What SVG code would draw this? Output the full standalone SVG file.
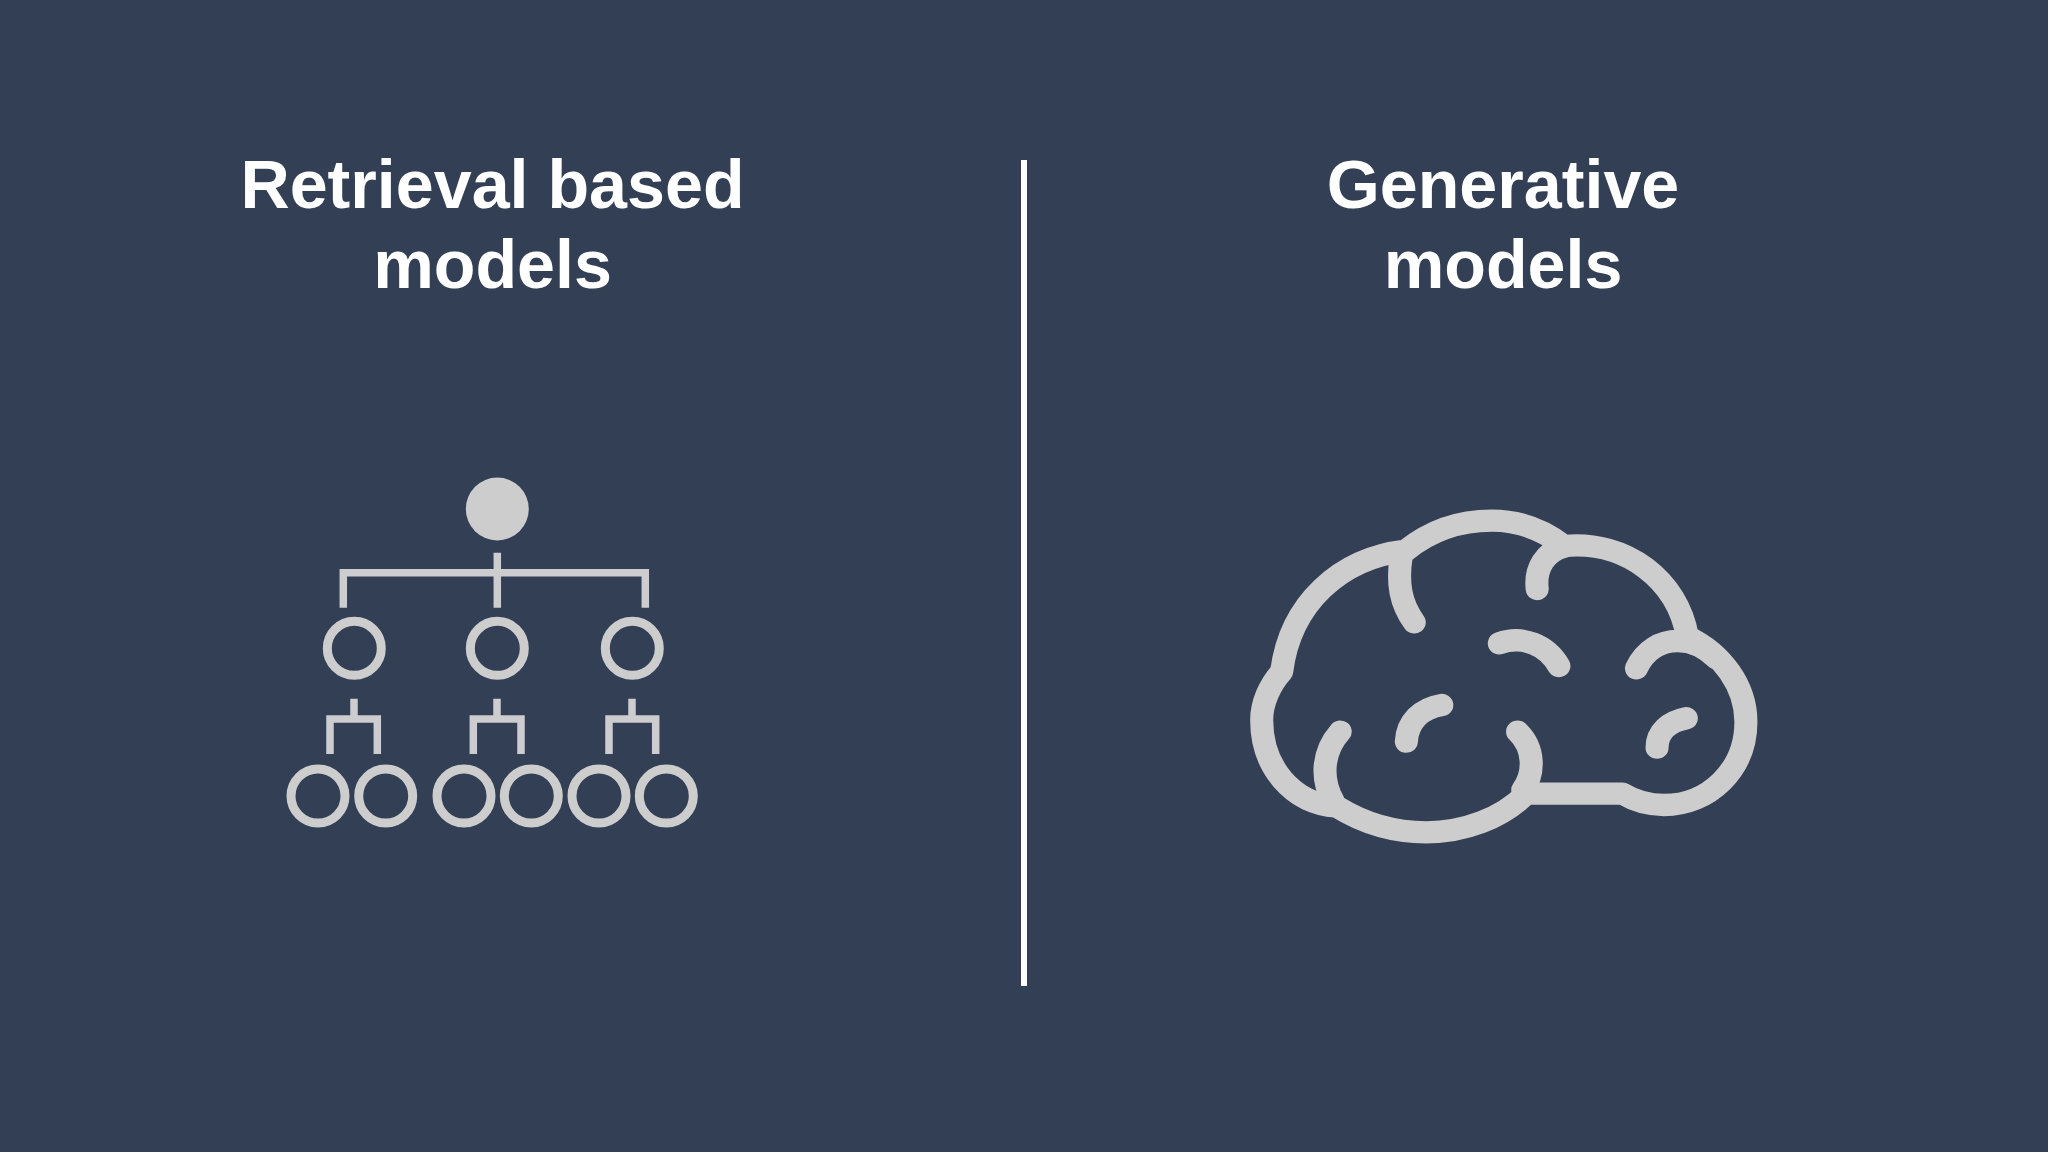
<svg xmlns="http://www.w3.org/2000/svg" width="2048" height="1152" viewBox="0 0 2048 1152">
<style>
.t{font-family:"Liberation Sans",Arial,sans-serif;font-weight:700;font-size:68.2px;fill:#fff;text-anchor:middle}
.r{fill:none;stroke:#cdcdcd;stroke-width:9}
.l{fill:none;stroke:#cdcdd0;stroke-width:7.5}
.b{fill:none;stroke:#cdcdcd;stroke-width:67;stroke-linecap:round;stroke-linejoin:round}
</style>
<rect width="2048" height="1152" fill="#323f54"/>
<g id="title-left"><text class="t" x="492.5" y="208">Retrieval based</text><text class="t" x="492.5" y="288">models</text></g>
<g id="title-right"><text class="t" x="1503" y="208">Generative</text><text class="t" x="1503" y="288">models</text></g>
<rect id="divider" x="1021" y="160" width="6" height="826" fill="#fff"/>
<g id="tree">
<circle cx="497.3" cy="509" r="31.5" fill="#cdcdcd"/>
<path class="l" d="M497.3 552.7V607.7M343.3 607.7V572.8H645.3V607.7"/>
<path class="l" d="M354 698.7V719M330 754V719H377.3V754M497 698.7V719M473.3 754V719H521V754M632 698.7V719M609 754V719H655.7V754"/>
<circle class="r" cx="354.3" cy="648.3" r="27"/><circle class="r" cx="497.3" cy="648.3" r="27"/><circle class="r" cx="632.3" cy="648.3" r="27"/>
<circle class="r" cx="318" cy="796" r="27"/><circle class="r" cx="385.7" cy="796" r="27"/><circle class="r" cx="464" cy="796" r="27"/><circle class="r" cx="531.3" cy="796" r="27"/><circle class="r" cx="599" cy="796" r="27"/><circle class="r" cx="666.3" cy="796" r="27"/>
</g>
<g id="brain" transform="translate(1230 490) scale(.3444 .3333)">
<path class="b" d="M150 545C175 340 320 205 510 182C590 115 680 92 760 92C840 92 910 120 970 168C1150 150 1300 270 1328 440C1430 490 1498 590 1498 695C1498 840 1390 945 1260 945C1210 945 1170 930 1140 911H860C790 985 680 1027 570 1027C470 1027 380 995 310 950C180 940 92 830 92 690C92 640 115 585 150 545Z"/>
<path class="b" d="M497 200C485 280 495 340 535 397"/>
<path class="b" d="M892 297C885 235 915 185 970 170"/>
<path class="b" d="M1180 535C1205 480 1250 453 1300 453C1345 453 1380 472 1412 505"/>
<path class="b" d="M320 725C265 790 265 870 300 935"/>
<path class="b" d="M835 725C885 775 885 850 850 900"/>
<path class="b" d="M782 460C850 435 920 465 955 528"/>
<path class="b" d="M512 755C515 695 555 655 615 645"/>
<path class="b" d="M1240 773C1240 725 1275 695 1325 685"/>
</g>
</svg>
